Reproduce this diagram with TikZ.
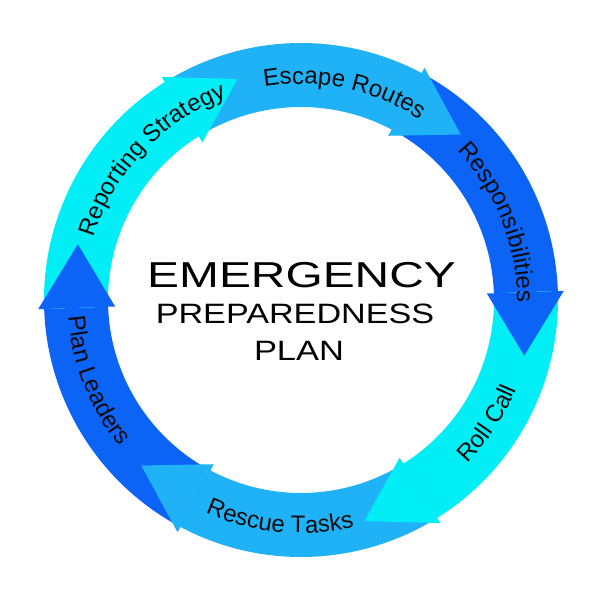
\documentclass[tikz,border=0pt]{standalone}
\usepackage{fontspec}
\newfontfamily\arialf{Liberation Sans}
\usetikzlibrary{decorations.text}
\definecolor{cyanb}{HTML}{02EEF6}
\definecolor{lightb}{HTML}{20B2F7}
\definecolor{darkb}{HTML}{0B64F6}
\definecolor{txt}{HTML}{0A0A0A}
\newcommand{\lblf}{\arialf\fontsize{24}{24}\selectfont}
\tikzset{
  toplabel/.style={decorate, decoration={text along path, text align=center, text color=txt, text={|\lblf|#1}}},
  centertext/.style={anchor=base, inner sep=0pt, text=black}
}
\begin{document}
\begin{tikzpicture}[x=1pt,y=1pt]
\useasboundingbox (-301,-300) rectangle (299,300);
\fill[white] (-301,-300) rectangle (299,300);
\def\ro{257}
\def\ri{193}
% arrow bodies
\foreach \b/\c in {62/lightb, 2/darkb, -58/cyanb, -118/lightb, -178/darkb, 122/cyanb}{
  \fill[\c] ({\b+60}:\ro) arc[start angle={\b+60}, end angle=\b, radius=\ro]
     -- (\b:\ri) arc[start angle=\b, end angle={\b+60}, radius=\ri] -- cycle;
}
% arrow heads
\foreach \b/\c in {62/lightb, 2/darkb, -58/cyanb, -118/lightb, -178/darkb, 122/cyanb}{
  \fill[\c] (\b:263) -- ({\b-16}:230) -- (\b:186) -- cycle;
}
% labels, upper half (clockwise)
\path[toplabel={Reporting Strategy}] ({136.7+45}:216) arc[start angle={136.7+45}, end angle={136.7-45}, radius=216];
\path[toplabel={Escape Routes}] ({78.2+45}:216) arc[start angle={78.2+45}, end angle={78.2-45}, radius=216];
\path[toplabel={Responsibilities}] ({21.6+45}:216) arc[start angle={21.6+45}, end angle={21.6-45}, radius=216];
% labels, lower half (counter-clockwise)
\path[toplabel={Roll Call}] ({-33.5-45}:233) arc[start angle={-33.5-45}, end angle={-33.5+45}, radius=233];
\path[toplabel={Rescue Tasks}] ({264.5-45}:233) arc[start angle={264.5-45}, end angle={264.5+45}, radius=233];
\path[toplabel={Plan Leaders}] ({201.5-45}:233) arc[start angle={201.5-45}, end angle={201.5+45}, radius=233];
% centre title
\node[centertext, font=\arialf\fontsize{36}{36}\selectfont] (t1) at (0.5,13) {\scalebox{1.33}[1]{EMERGENCY}};
\node[centertext, font=\arialf\fontsize{28}{28}\selectfont] (t2) at (-6,-23.3) {\scalebox{1.22}[1]{PREPAREDNESS}};
\node[centertext, font=\arialf\fontsize{28}{28}\selectfont] (t3) at (-2,-60) {\scalebox{1.23}[1]{PLAN}};
\end{tikzpicture}
\end{document}
